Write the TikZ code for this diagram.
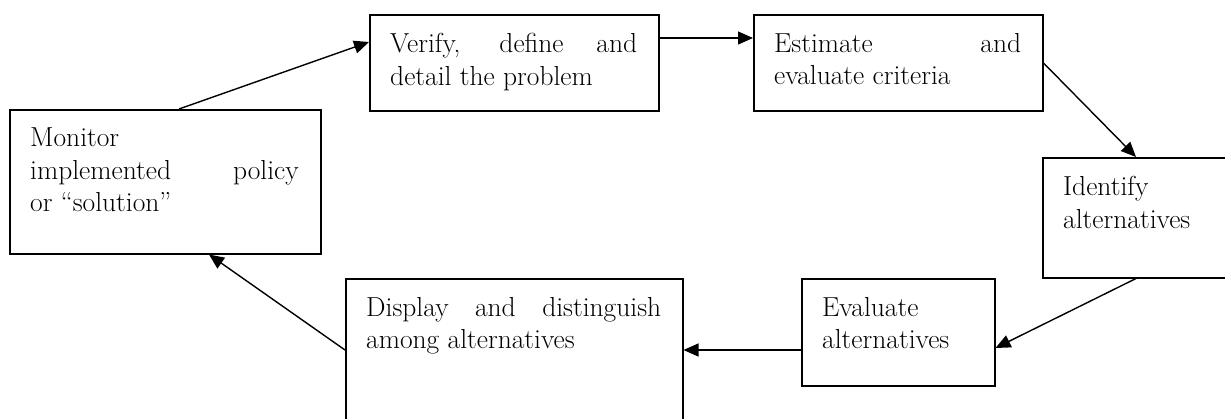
\documentclass[tikz,border=0pt]{standalone}
\usepackage{fontspec}
\usetikzlibrary{arrows.meta,calc}
\begin{document}
\begin{tikzpicture}[x=1pt,y=-1pt,
  box/.style={draw=black,line width=1.5pt,rectangle,inner sep=0pt,anchor=north west},
  txt/.style={anchor=north west,inner sep=0pt,align=justify,font=\fontsize{27.5}{32.5}\selectfont},
  txtl/.style={anchor=north west,inner sep=0pt,align=left,font=\fontsize{27.5}{32.5}\selectfont},
  link/.style={line width=1.4pt,-{Triangle[length=15pt,width=13pt]}}]
\useasboundingbox (0,0) rectangle (1225,418);
\clip (0,0) rectangle (1225,418);
% boxes
\node[box,minimum width=311pt,minimum height=144pt] (mon) at (9,109) {};
\node[box,minimum width=289pt,minimum height=96pt] (ver) at (369,14) {};
\node[box,minimum width=289pt,minimum height=96pt] (est) at (753,14) {};
\node[box,minimum width=200pt,minimum height=120pt] (ide) at (1042,157) {};
\node[box,minimum width=193pt,minimum height=107pt] (eva) at (801,278) {};
\node[box,minimum width=337pt,minimum height=160pt] (dis) at (345,278) {};
% texts
\node[txt,text width=268.5pt] (monT) at (30,128) {Monitor\\implemented policy\linebreak or “solution”};
\node[txt,text width=247pt] (verT) at (390,33) {Verify, define and\linebreak detail the problem};
\node[txt,text width=247pt] (estT) at (774,33) {Estimate and\linebreak evaluate criteria};
\node[txtl] (ideT) at (1063,176) {Identify\\alternatives};
\node[txtl] (evaT) at (822,297) {Evaluate\\alternatives};
\node[txt,text width=295pt] (disT) at (366,297) {Display and distinguish\linebreak among alternatives};
% connectors
\draw[link] ([xshift=170pt]mon.north west) -- ([yshift=-28pt]ver.north west);
\draw[link] ([yshift=-24pt]ver.north east) -- ([yshift=-24pt]est.north west);
\draw[link] ([yshift=-49pt]est.north east) -- ([xshift=94pt]ide.north west);
\draw[link] ([xshift=94pt]ide.south west) -- ([yshift=-70pt]eva.north east);
\draw[link] ([yshift=-72pt]eva.north west) -- ([yshift=-72pt]dis.north east);
\draw[link] ([yshift=-72pt]dis.north west) -- ([xshift=200pt]mon.south west);
\end{tikzpicture}
\end{document}
